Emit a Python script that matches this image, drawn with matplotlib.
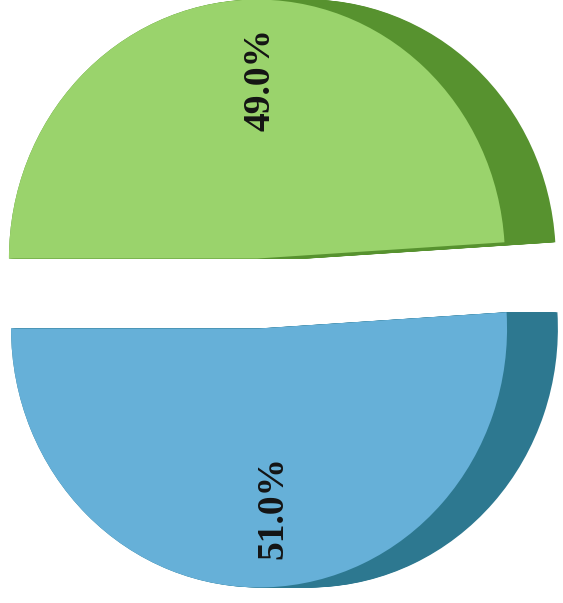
import numpy as np
import matplotlib
matplotlib.use("Agg")
import matplotlib.pyplot as plt

# Data
categories = ["Segment A", "Segment B"]
values = [49.0, 51.0]
face_colors = ["#9ad36c", "#66b0d8"]
side_colors = ["#57922f", "#2d7890"]

explode = [0.135, 0.135]
start_angle = 3.6
depth = 0.205  # horizontal depth of the 3D side, in radius units

fig = plt.figure(figsize=(5.63, 6.03), dpi=100)
ax = fig.add_axes([0, 0, 1, 1])

# side (depth) of the pie: stacked shifted copies
for dx in np.linspace(depth, 0.0, 40):
    ax.pie(values, explode=explode, colors=side_colors, startangle=start_angle,
           center=(dx, 0), radius=1.0, counterclock=True,
           wedgeprops=dict(linewidth=0))

# top face with labels
wedges, texts, autotexts = ax.pie(
    values, explode=explode, colors=face_colors, startangle=start_angle,
    center=(0, 0), radius=1.0, counterclock=True,
    autopct='%1.1f%%', pctdistance=0.69,
    wedgeprops=dict(linewidth=0),
    textprops=dict(rotation=90, fontsize=27, fontweight='bold',
                   family=['Liberation Serif', 'DejaVu Serif'], color='#141414'))

for t in autotexts:
    x, y = t.get_position()
    t.set_position((x + 0.035, y))

ax.set_aspect('auto')
ax.set_xlim(-258 / 248, (563 - 258) / 248)
ax.set_ylim(-(603 - 293.5) / 259, 293.5 / 259)
ax.axis('off')

fig.savefig("out.png", dpi=100, facecolor='white')
